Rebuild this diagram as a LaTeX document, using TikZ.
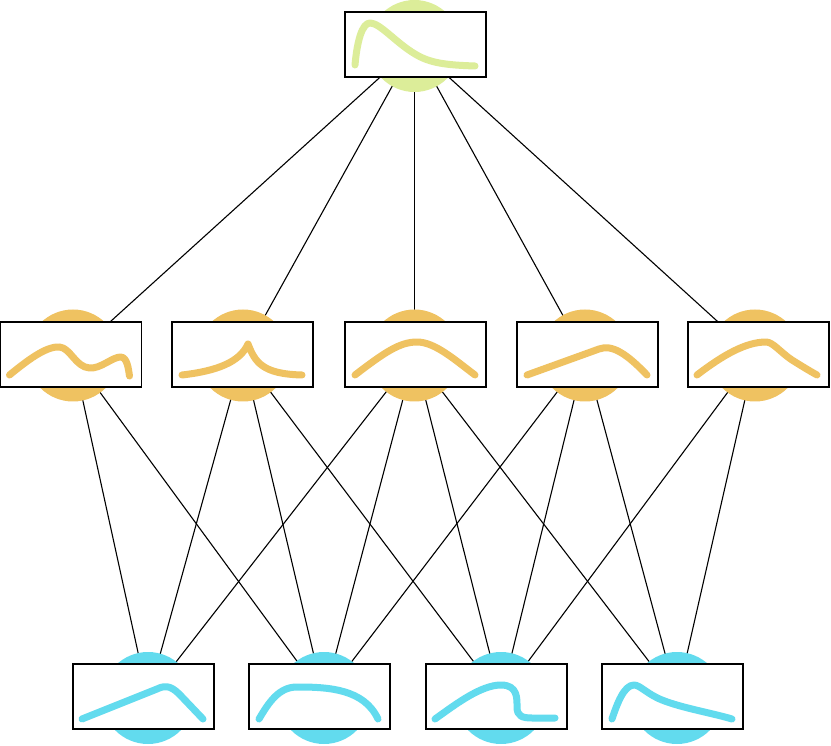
\documentclass[tikz,border=0pt]{standalone}
\usetikzlibrary{positioning}
\definecolor{topc}{RGB}{220,237,153}
\definecolor{midc}{RGB}{239,194,97}
\definecolor{botc}{RGB}{98,219,238}
\tikzset{
  blob/.style={circle, minimum size=92pt, inner sep=0pt, draw=none},
  plotbox/.style={rectangle, draw=black, line width=1.8pt, fill=white, minimum width=141pt, minimum height=65pt, inner sep=0pt, outer sep=0pt},
  edge/.style={draw=black, line width=1.1pt},
  curve/.style={line width=7pt, line cap=round, line join=round}
}
\begin{document}
\begin{tikzpicture}[x=1pt,y=-1pt]
\useasboundingbox (0,0) rectangle (831,746);
% centres
\coordinate (T) at (414.5,46);
\coordinate (M1) at (73,355.5);
\coordinate (M2) at (243,355.5);
\coordinate (M3) at (414.5,355.5);
\coordinate (M4) at (585,355.5);
\coordinate (M5) at (755,355.5);
\coordinate (B1) at (148,698);
\coordinate (B2) at (324,698);
\coordinate (B3) at (501,698);
\coordinate (B4) at (677,698);
% edges
\foreach \m in {M1,M2,M3,M4,M5} \draw[edge] (T) -- (\m);
\draw[edge] (M1) -- (B1); \draw[edge] (M1) -- (B2);
\draw[edge] (M2) -- (B1); \draw[edge] (M2) -- (B2); \draw[edge] (M2) -- (B3);
\draw[edge] (M3) -- (B1); \draw[edge] (M3) -- (B2); \draw[edge] (M3) -- (B3); \draw[edge] (M3) -- (B4);
\draw[edge] (M4) -- (B2); \draw[edge] (M4) -- (B3); \draw[edge] (M4) -- (B4);
\draw[edge] (M5) -- (B3); \draw[edge] (M5) -- (B4);
% blobs
\node[blob, fill=topc] (ct) at (T) {};
\foreach \m in {M1,M2,M3,M4,M5} \node[blob, fill=midc] (c\m) at (\m) {};
\foreach \b in {B1,B2,B3,B4} \node[blob, fill=botc] (c\b) at (\b) {};
% boxes
\node[plotbox] (bt) at (415.5,44.5) {};
\node[plotbox] (bm1) at (71,354.5) {};
\node[plotbox] (bm2) at (242.5,354.5) {};
\node[plotbox] (bm3) at (415.5,354.5) {};
\node[plotbox] (bm4) at (587.5,354.5) {};
\node[plotbox] (bm5) at (758.5,354.5) {};
\node[plotbox] (bb1) at (143.5,696.5) {};
\node[plotbox] (bb2) at (319.5,696.5) {};
\node[plotbox] (bb3) at (496.5,696.5) {};
\node[plotbox] (bb4) at (672.5,696.5) {};
% curves
\begin{scope}[shift={(bt.north west)}]
\draw[curve, topc] (10,53) .. controls (12,30) and (17,11) .. (25,11) .. controls (35,11) and (50,30) .. (70,42) .. controls (85,51) and (100,53) .. (130,54);
\end{scope}
\begin{scope}[shift={(bm1.north west)}]
\draw[curve, midc] (9,53) .. controls (25,40) and (45,24) .. (59,25) .. controls (70,26) and (75,45) .. (89,46) .. controls (100,47) and (112,35) .. (120,35) .. controls (127,35) and (128,48) .. (129,54);
\end{scope}
\begin{scope}[shift={(bm2.north west)}]
\draw[curve, midc] (10,53) .. controls (45,49) and (68,40) .. (76,22) .. controls (83,40) and (90,52) .. (130,53);
\end{scope}
\begin{scope}[shift={(bm3.north west)}]
\draw[curve, midc] (10,53) .. controls (40,30) and (55,20) .. (72,20) .. controls (90,20) and (110,38) .. (130,53);
\end{scope}
\begin{scope}[shift={(bm4.north west)}]
\draw[curve, midc] (10,53) -- (82,27) .. controls (95,22) and (110,32) .. (130,53);
\end{scope}
\begin{scope}[shift={(bm5.north west)}]
\draw[curve, midc] (9,53) .. controls (35,33) and (58,20) .. (78,20) .. controls (85,20) and (92,30) .. (104,38) .. controls (112,43) and (120,48) .. (129,53);
\end{scope}
\begin{scope}[shift={(bb1.north west)}]
\draw[curve, botc] (9,55) -- (84,25) .. controls (94,20) and (100,23) .. (110,34) -- (130,55);
\end{scope}
\begin{scope}[shift={(bb2.north west)}]
\draw[curve, botc] (10,55) .. controls (20,38) and (30,23) .. (48,23) .. controls (80,23) and (115,25) .. (129,55);
\end{scope}
\begin{scope}[shift={(bb3.north west)}]
\draw[curve, botc] (9,55) .. controls (30,40) and (55,21) .. (75,21) .. controls (92,21) and (91,35) .. (91,43) .. controls (91,52) and (96,54) .. (106,54) -- (129,54);
\end{scope}
\begin{scope}[shift={(bb4.north west)}]
\draw[curve, botc] (10,55) .. controls (15,40) and (22,21) .. (32,21) .. controls (38,21) and (45,30) .. (60,36) .. controls (80,44) and (110,49) .. (130,55);
\end{scope}
\end{tikzpicture}
\end{document}
